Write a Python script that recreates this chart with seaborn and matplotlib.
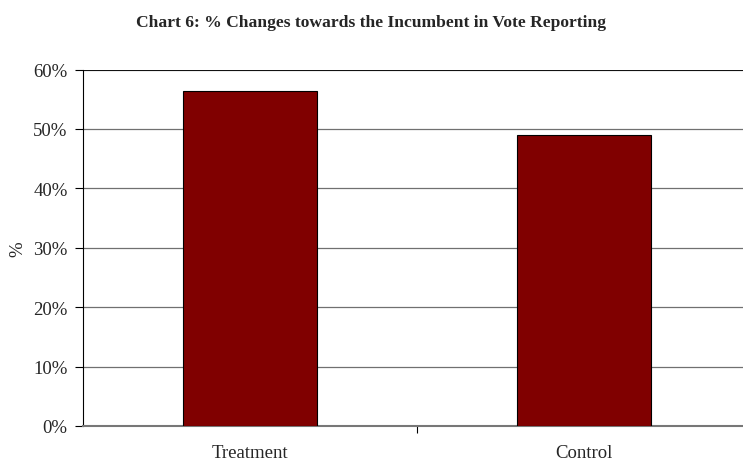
import pandas as pd
import matplotlib
matplotlib.use("Agg")
import matplotlib.pyplot as plt
import seaborn as sns
from matplotlib.ticker import PercentFormatter

# data
groups = ["Treatment", "Control"]
shares = [56.3, 49.0]
y_ticks = [0, 10, 20, 30, 40, 50, 60]

df = pd.DataFrame({"group": groups, "share": shares})

sns.set_style("ticks")
plt.rcParams["font.family"] = ["Liberation Serif", "DejaVu Serif"]

fig = plt.figure(figsize=(7.43, 4.64), dpi=100)
# plot area runs a little past the right edge, like the original export
ax = fig.add_axes([83 / 743, 37 / 464, 668 / 743, 356.5 / 464])

sns.barplot(data=df, x="group", y="share", color="#800000", width=0.4,
            edgecolor="black", linewidth=0.8, saturation=1, ax=ax, zorder=3)

ax.set_ylim(0, 60)
ax.set_xlim(-0.5, 1.5)
ax.set_yticks(y_ticks)
ax.yaxis.set_major_formatter(PercentFormatter(decimals=0))
ax.set_xticks([0.5], minor=False)
ax.set_xticks([0, 1], minor=True)
ax.set_xticklabels([""])
ax.set_xticklabels(groups, minor=True)
ax.tick_params(axis="x", which="minor", length=0, pad=13, labelsize=13.5)
ax.tick_params(axis="x", which="major", length=5, width=0.8, color="black", direction="out")
ax.tick_params(axis="y", length=6, width=0.8, color="black", labelsize=13.5, pad=5, direction="out")

ax.grid(axis="y", color="#707070", linewidth=0.9, zorder=0)
ax.axhline(60, color="black", linewidth=1.2, zorder=1)
for side in ["top", "right"]:
    ax.spines[side].set_visible(False)
ax.spines["left"].set_color("black")
ax.spines["left"].set_linewidth(0.8)
ax.spines["bottom"].set_color("#777777")
ax.spines["bottom"].set_linewidth(1.5)

ax.set_xlabel("")
ax.set_ylabel("%", fontsize=13.5, labelpad=5)

fig.text(0.5, 1 - 23 / 464, "Chart 6: % Changes towards the Incumbent in Vote Reporting",
         ha="center", va="center", fontsize=12.6, fontweight="bold")

fig.savefig("out.png", dpi=100)
